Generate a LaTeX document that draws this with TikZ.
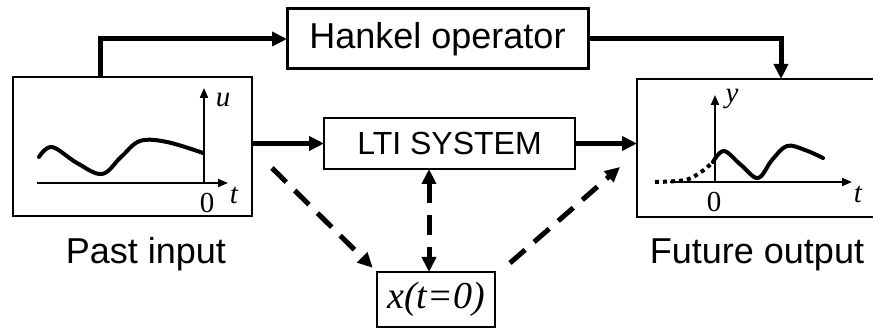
\documentclass[tikz,border=0pt]{standalone}
\usepackage{fontspec}
\setmainfont{Liberation Sans}
\newfontfamily\tms{Liberation Serif}
\usetikzlibrary{arrows.meta}

\tikzset{
  panel/.style={draw, line width=2pt, inner sep=0pt, outer sep=0pt},
  blockbox/.style={draw, line width=2.6pt, inner sep=0pt, outer sep=0pt},
  bigtip/.style={-{Triangle[length=15pt,width=14pt]}},
  flow/.style={line width=5pt, bigtip},
  dflow/.style={line width=5pt, dash pattern=on 20pt off 12pt},
  axis/.style={line width=2pt, -{Triangle[length=10pt,width=8pt]}},
  signal/.style={line width=4pt, line cap=round, line join=round},
  axlabel/.style={font=\tms\fontsize{29}{32}\selectfont, inner sep=0pt},
  caption/.style={font=\fontsize{36}{40}\selectfont, inner sep=0pt, anchor=base},
}

\begin{document}
\begin{tikzpicture}[x=1pt, y=-1pt]
  \clip (0,0) rectangle (873,328);
  \fill[white] (0,0) rectangle (873,328);

  % blocks
  \node[panel, minimum width=239pt, minimum height=139pt] (lbox) at (132.5,146.5) {};
  \node[panel, minimum width=263pt, minimum height=138pt] (rbox) at (768.5,148) {};
  \node[blockbox, line width=3pt, minimum width=301pt, minimum height=60pt,
        font=\fontsize{36}{40}\selectfont] (hank) at (437.5,39) {Hankel operator};
  \node[blockbox, minimum width=251pt, minimum height=51pt,
        font=\fontsize{32}{36}\selectfont] (lti) at (449.5,143.5) {LTI SYSTEM};
  \node[blockbox, minimum width=118pt, minimum height=55pt,
        font=\tms\itshape\fontsize{38}{42}\selectfont] (xbox) at (436,299.5) {x(t=0)};

  % captions
  \node[caption] (pastlbl) at (146,264) {Past input};
  \node[caption] (futlbl) at (757,264) {Future output};

  % past input plot
  \coordinate (lorig) at (204,183);
  \coordinate (lxend) at (228,183);
  \coordinate (lyend) at (204,88);
  \draw[axis] (37,183) -- (lxend);
  \draw[axis] (lorig) -- (lyend);
  \draw[signal] plot[smooth, tension=0.6] coordinates
    {(39,157) (52,147) (77,163) (102,174) (121,157) (140,141) (167,142) (203,153)};
  \node[axlabel] (ulbl) at (223,100) {\itshape u};
  \node[axlabel] (l0) at (207,203) {0};
  \node[axlabel] (lt) at (234,195) {\itshape t};

  % future output plot
  \coordinate (rorig) at (715,182);
  \coordinate (rxend) at (852,182);
  \coordinate (ryend) at (715,95);
  \draw[axis] (670,182) -- (rxend);
  \draw[axis] (rorig) -- (ryend);
  \draw[line width=4pt, dash pattern=on 4pt off 4pt] plot[smooth, tension=0.6] coordinates
    {(655,182) (685,180) (701,172) (713,162)};
  \draw[signal] plot[smooth, tension=0.6] coordinates
    {(713,162) (724,151) (741,165) (758,178) (772,160) (787,146) (805,150) (823,158)};
  \node[axlabel] (ylbl) at (732,99) {\itshape y};
  \node[axlabel] (r0) at (714,202) {0};
  \node[axlabel] (rt) at (858,194) {\itshape t};

  % Hankel path
  \coordinate (hin) at (100,77);
  \coordinate (hout) at (781,79);
  \draw[flow] (hin) |- (hank.west);
  \draw[flow] (hank.east) -| (hout);

  % through the LTI system
  \draw[flow] (lti.west -| lbox.east) -- (lti.west);
  \draw[flow] (lti.east) -- (lti.east -| rbox.west);

  % state paths
  \coordinate (vx) at (429,0);
  \draw[dflow, {Triangle[length=15pt,width=14pt]}-{Triangle[length=15pt,width=14pt]}]
    (lti.south -| vx) -- (xbox.north -| vx);
  \coordinate (d1s) at (272,168);
  \draw[dflow, bigtip, shorten >=6pt] (d1s) -- (xbox.north west);
  \coordinate (d2s) at (510,263);
  \coordinate (d2e) at (620,167);
  \draw[dflow, bigtip] (d2s) -- (d2e);
\end{tikzpicture}
\end{document}
